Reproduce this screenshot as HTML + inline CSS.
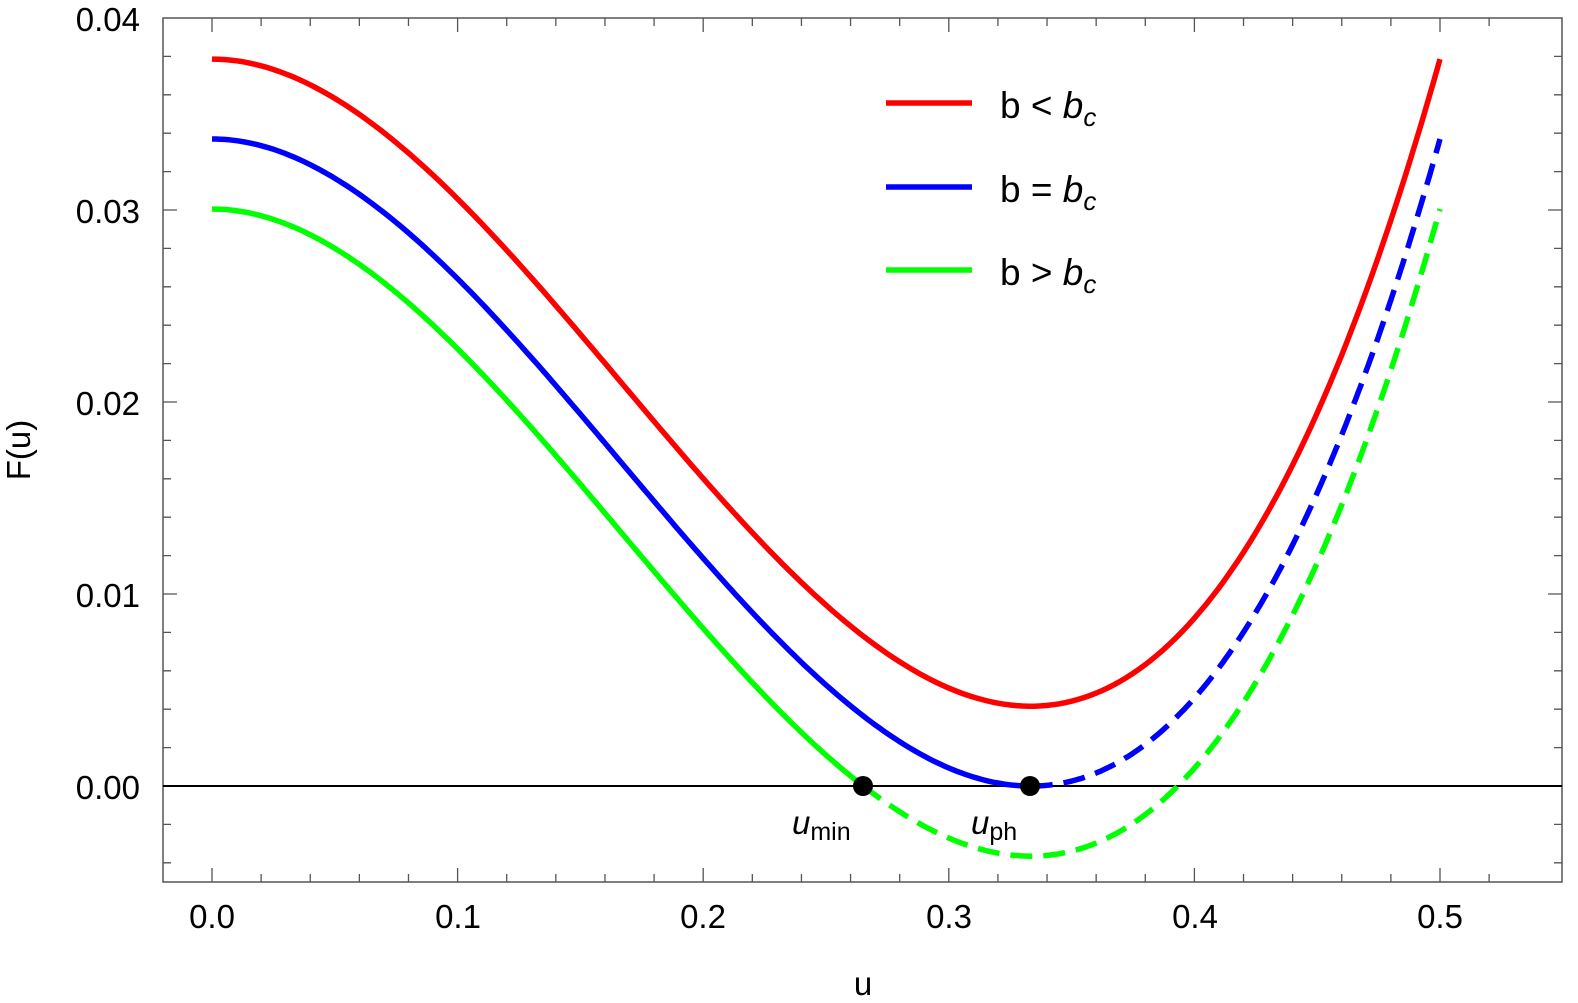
<!DOCTYPE html>
<html><head><meta charset="utf-8"><style>
html,body{margin:0;padding:0;background:#fff;overflow:hidden;width:1578px;height:1003px;}
svg{display:block;font-family:"Liberation Sans",sans-serif;}
</style></head><body>
<svg id="s" width="1578" height="1003" viewBox="0 0 1578 1003" xmlns="http://www.w3.org/2000/svg">
<g id="ticks" stroke="#555" stroke-width="1.3" fill="none"></g>
<rect x="163" y="18" width="1399" height="864" fill="none" stroke="#555" stroke-width="1.5"/>
<line x1="163" y1="786" x2="1562" y2="786" stroke="#000" stroke-width="2"/>
<g id="curves" fill="none" stroke-width="5.5"></g>
<g font-size="33" fill="#000" text-anchor="middle">
<text x="212" y="928">0.0</text><text x="458" y="928">0.1</text><text x="703" y="928">0.2</text>
<text x="949" y="928">0.3</text><text x="1195" y="928">0.4</text><text x="1440" y="928">0.5</text>
</g>
<g font-size="33" fill="#000" text-anchor="end">
<text x="140" y="31">0.04</text><text x="140" y="223">0.03</text><text x="140" y="415">0.02</text>
<text x="140" y="607">0.01</text><text x="140" y="799">0.00</text>
</g>
<text x="863" y="995" font-size="33" text-anchor="middle">u</text>
<text transform="translate(30,450) rotate(-90)" font-size="33" text-anchor="middle">F(u)</text>
<line x1="886" y1="103" x2="972" y2="103" stroke="#f00" stroke-width="5.5"/>
<line x1="886" y1="187" x2="972" y2="187" stroke="#00f" stroke-width="5.5"/>
<line x1="886" y1="270" x2="972" y2="270" stroke="#0f0" stroke-width="5.5"/>
<g font-size="37">
<text x="1000" y="118">b &lt; <tspan font-style="italic">b</tspan><tspan font-style="italic" font-size="26" dy="8">c</tspan></text>
<text x="1000" y="202">b = <tspan font-style="italic">b</tspan><tspan font-style="italic" font-size="26" dy="8">c</tspan></text>
<text x="1000" y="285">b &gt; <tspan font-style="italic">b</tspan><tspan font-style="italic" font-size="26" dy="8">c</tspan></text>
</g>
<circle cx="863" cy="786" r="10" fill="#000"/>
<circle cx="1030" cy="786" r="10" fill="#000"/>
<g font-size="33">
<text x="792" y="834" font-style="italic">u<tspan font-style="normal" font-size="25" dy="6">min</tspan></text>
<text x="971" y="834" font-style="italic">u<tspan font-style="normal" font-size="25" dy="6">ph</tspan></text>
</g>
</svg>
<script>
var X=function(u){return 212+u*2456;},Y=function(f){return 786-f*19200;};
var t=document.getElementById('ticks'),d='';
for(var i=0;i<=27;i++){var u=-0.02+i*0.02;var x=X(u);if(x<164||x>1561)continue;var maj=Math.abs(Math.round(u*10)-u*10)<1e-6;var L=maj?14:8;
d+='M'+x+' 882v-'+L+'M'+x+' 18v'+L;}
for(var j=-3;j<=20;j++){var f=j*0.002;var y=Y(f);if(y<19||y>881)continue;var maj=(j%5==0);var L=maj?14:8;
d+='M163 '+y+'h'+L+'M1562 '+y+'h-'+L;}
t.innerHTML='<path d="'+d+'"/>';
function g(u){return 0.91*u*u*(1-2*u);}
function path(c,a,b){var s='';for(var k=0;k<=200;k++){var u=a+(b-a)*k/200;s+=(k?'L':'M')+X(u).toFixed(1)+' '+Y(c-g(u)).toFixed(1);}return s;}
var C=document.getElementById('curves');
var h='';
h+='<path stroke="#f00" d="'+path(0.03786,0,0.5)+'"/>';
h+='<path stroke="#00f" d="'+path(0.0337,0,1/3)+'"/>';
h+='<path stroke="#00f" stroke-dasharray="22 11" d="'+path(0.0337,1/3,0.5)+'"/>';
h+='<path stroke="#0f0" d="'+path(0.03005,0,0.265)+'"/>';
h+='<path stroke="#0f0" stroke-dasharray="22 11" d="'+path(0.03005,0.265,0.5)+'"/>';
C.innerHTML=h;
</script>
</body></html>
